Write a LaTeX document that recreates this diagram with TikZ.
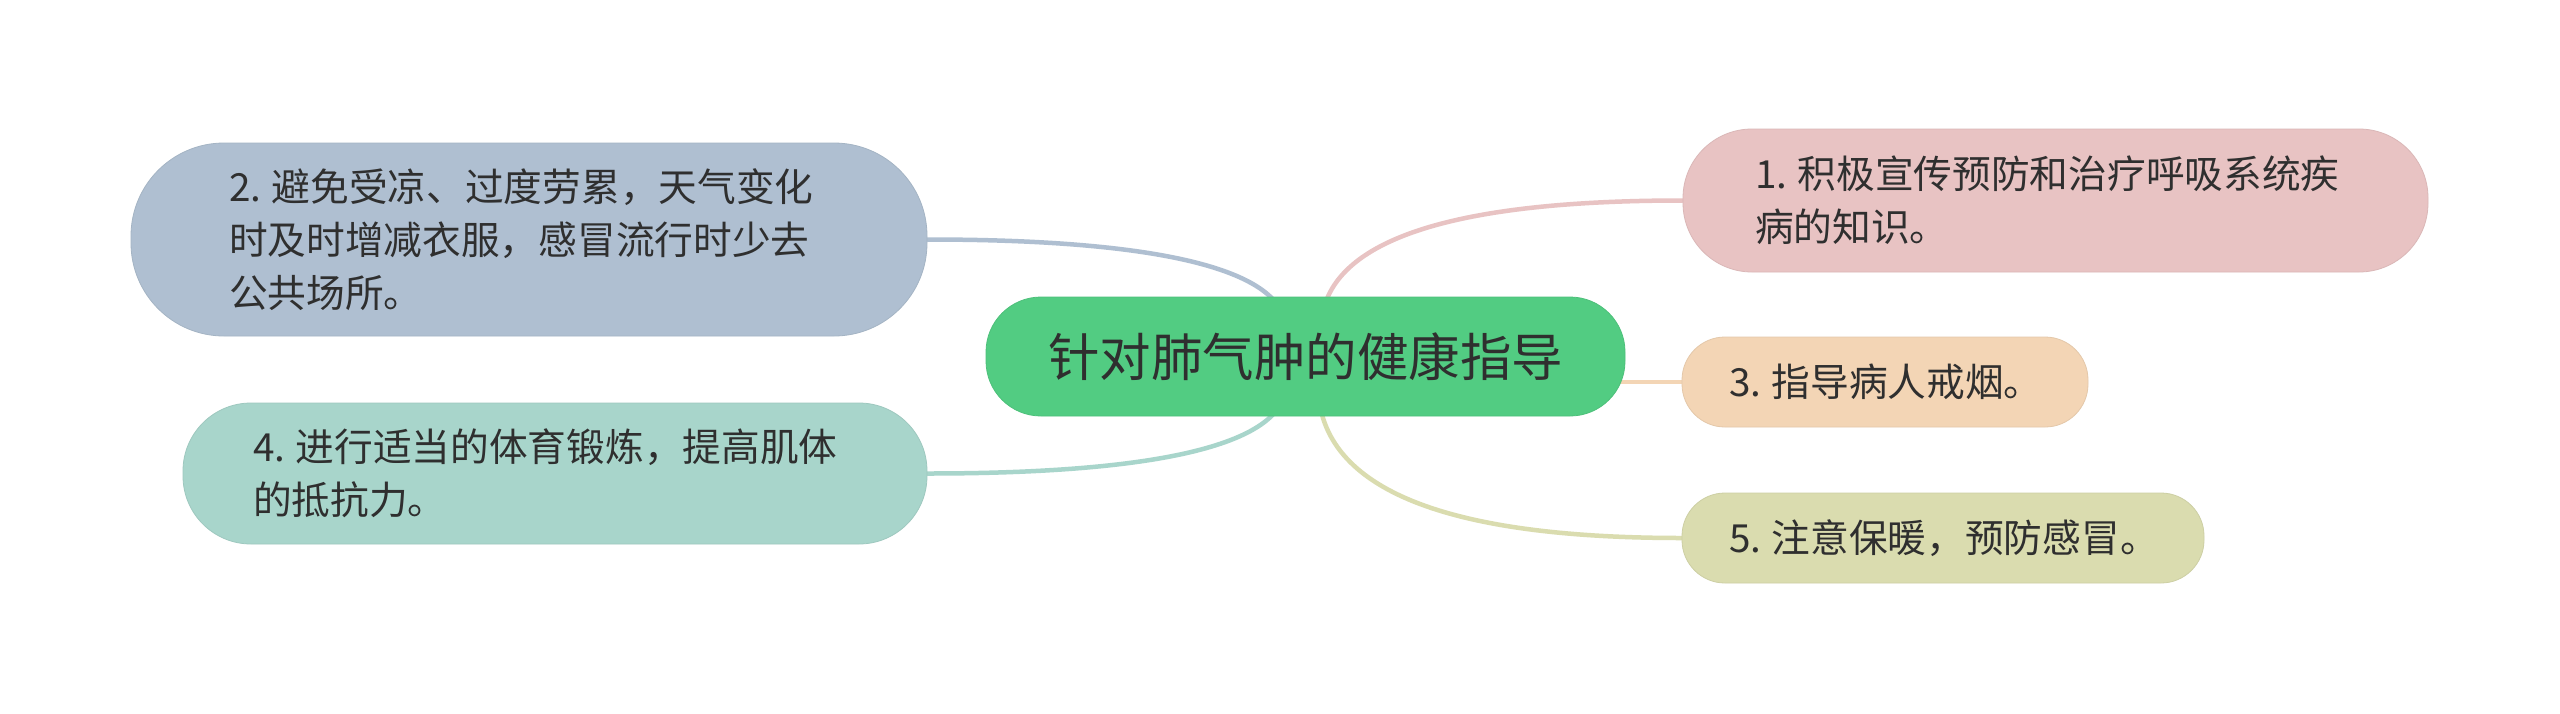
\documentclass[tikz,border=0pt]{standalone}
\usepackage{fontspec}
\setmainfont{Noto Sans CJK SC}
\pgfdeclarelayer{bglayer}
\pgfdeclarelayer{edgelayer}
\pgfsetlayers{bglayer,edgelayer,main}
\definecolor{cgreen}{HTML}{52CC82}
\definecolor{cblue}{HTML}{AFBFD1}
\definecolor{cteal}{HTML}{A8D5CB}
\definecolor{cpink}{HTML}{E8C3C3}
\definecolor{cpeach}{HTML}{F3D5B5}
\definecolor{colive}{HTML}{DADCAF}
\definecolor{txt}{HTML}{2F2F2F}
\newcommand{\numsp}{\hspace{10.5pt}}
\begin{document}
\begin{tikzpicture}[x=1pt,y=-1pt,
  topicbox/.style={fill=#1, draw=#1!94!black, line width=0.8pt, align=left, text=txt,
    font=\fontsize{38.7pt}{53pt}\selectfont, inner ysep=0pt, anchor=center},
  rootbox/.style={fill=cgreen, draw=cgreen!94!black, line width=0.8pt, text=txt,
    font=\fontsize{51.5pt}{60pt}\selectfont, inner ysep=0pt, anchor=center},
  conn/.style={draw=#1, line width=4.5pt, line cap=round}
]
\begin{pgfonlayer}{bglayer}
  \fill[white] (0,0) rectangle (2560,713);
\end{pgfonlayer}
\useasboundingbox (0,0) rectangle (2560,713);

% root
\node[rootbox, text width=515pt, align=center, inner xsep=62pt, minimum height=119pt,
      rounded corners=55pt] (root) at (1305.5,356.5) {针对肺气肿的健康指导};

% left children
\node[topicbox=cblue, text width=600pt, inner xsep=98pt, minimum height=193pt,
      rounded corners=93pt] (n2) at (529,239.5)
  {2.\numsp 避免受凉、过度劳累，天气变化\\时及时增减衣服，感冒流行时少去\\公共场所。};
\node[topicbox=cteal, text width=604pt, inner xsep=70pt, minimum height=141pt,
      rounded corners=68pt] (n4) at (555,473.5)
  {4.\numsp 进行适当的体育锻炼，提高肌体\\的抵抗力。};

% right children
\node[topicbox=cpink, text width=601pt, inner xsep=72pt, minimum height=143pt,
      rounded corners=69pt] (n1) at (2055.5,200.5)
  {1.\numsp 积极宣传预防和治疗呼吸系统疾\\病的知识。};
\node[topicbox=cpeach, inner xsep=47pt, minimum height=90pt,
      rounded corners=43pt] (n3) at (1885,382)
  {\makebox[312pt][l]{3.\numsp 指导病人戒烟。}};
\node[topicbox=colive, inner xsep=47pt, minimum height=90pt,
      rounded corners=43pt] (n5) at (1943,538)
  {\makebox[428pt][l]{5.\numsp 注意保暖，预防感冒。}};

% connector start points (hidden under the root)
\coordinate (s2) at (1286,330);
\coordinate (s4) at (1286,384);
\coordinate (s1) at (1321,330);
\coordinate (s5) at (1318,384);
\coordinate (s3) at (1600,382);

\begin{pgfonlayer}{edgelayer}
  \draw[conn=cblue]  (s2) .. controls (1286,270) and (1162,239.5) .. (n2.east);
  \draw[conn=cteal]  (s4) .. controls (1286,443.7) and (1162,473.5) .. (n4.east);
  \draw[conn=cpink]  (s1) .. controls (1321,243.7) and (1441,200.5) .. (n1.west);
  \draw[conn=colive] (s5) .. controls (1318,486.7) and (1439,538) .. (n5.west);
  \draw[conn=cpeach] (s3) -- (n3.west);
\end{pgfonlayer}
\end{tikzpicture}
\end{document}
